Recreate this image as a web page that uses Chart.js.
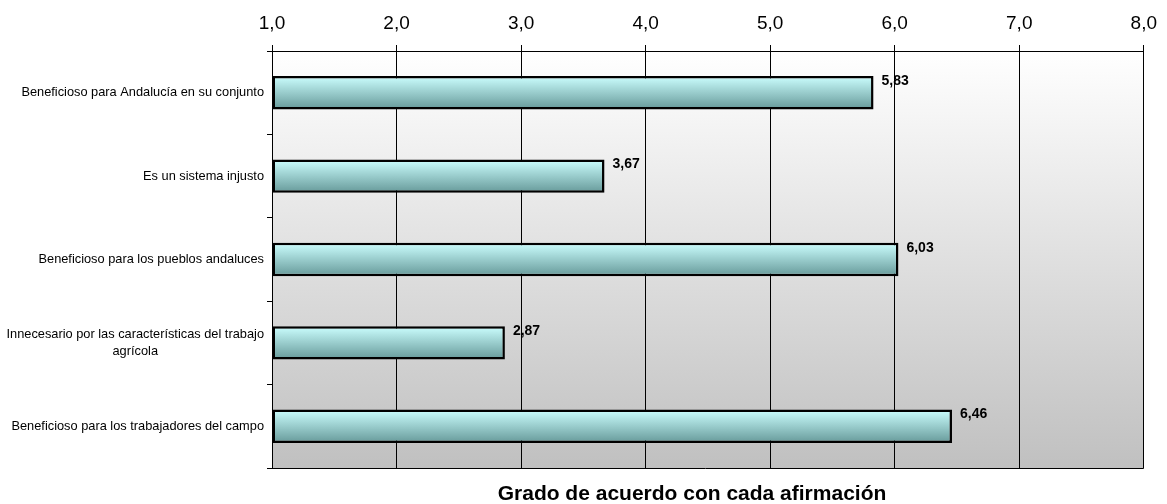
<!DOCTYPE html>
<html><head><meta charset="utf-8">
<script src="https://cdn.jsdelivr.net/npm/chart.js@4.4.0/dist/chart.umd.min.js"></script>
<style>html,body{margin:0;padding:0;background:#fff}#wrap{width:1167px;height:504px}</style>
</head><body><div id="wrap"><canvas id="c" width="1167" height="504"></canvas></div>
<script>
const categories = [
  ["Beneficioso para Andalucía en su conjunto"],
  ["Es un sistema injusto"],
  ["Beneficioso para los pueblos andaluces"],
  ["Innecesario por las características del trabajo", "agrícola"],
  ["Beneficioso para los trabajadores del campo"]
];
const values = [5.83, 3.67, 6.03, 2.87, 6.46];
const valueLabels = ["5,83", "3,67", "6,03", "2,87", "6,46"];
const xTickLabels = ["1,0", "2,0", "3,0", "4,0", "5,0", "6,0", "7,0", "8,0"];
const axisTitle = "Grado de acuerdo con cada afirmación";
const xMin = 1, xMax = 8;

const FONT = "'Liberation Sans', Arial, Helvetica, sans-serif";
const BAR_PCT = 0.4;

const drawPlugin = {
  id: 'custom',
  beforeDraw(chart) {
    const {ctx, chartArea: a} = chart;
    ctx.save();
    ctx.fillStyle = '#fff';
    ctx.fillRect(0, 0, chart.width, chart.height);
    const g = ctx.createLinearGradient(0, a.top, 0, a.bottom);
    g.addColorStop(0, '#ffffff');
    g.addColorStop(1, '#c0c0c0');
    ctx.fillStyle = g;
    ctx.fillRect(a.left, a.top, a.right - a.left, a.bottom - a.top);
    ctx.restore();
  },
  afterDraw(chart) {
    const {ctx, chartArea: a} = chart;
    const ys = chart.scales.y;
    ctx.save();
    // bottom border
    ctx.strokeStyle = '#000';
    ctx.lineWidth = 1;
    ctx.beginPath();
    ctx.moveTo(a.left - 5, Math.round(a.bottom) + 0.5);
    ctx.lineTo(a.right, Math.round(a.bottom) + 0.5);
    ctx.stroke();
    // value labels
    const meta = chart.getDatasetMeta(0);
    ctx.fillStyle = '#000';
    ctx.font = 'bold 14px ' + FONT;
    ctx.textAlign = 'left';
    ctx.textBaseline = 'middle';
    meta.data.forEach((el, i) => {
      ctx.fillText(valueLabels[i], el.x + 8, el.y - el.height / 2 + 5);
    });
    // category labels
    ctx.font = '12.8px ' + FONT;
    ctx.textAlign = 'center';
    const rightX = 264, lh = 17;
    categories.forEach((lines, i) => {
      const cy = ys.getPixelForValue(i);
      const w = Math.max(...lines.map(l => ctx.measureText(l).width));
      const cx = rightX - w / 2;
      const y0 = cy - (lines.length - 1) * lh / 2;
      lines.forEach((l, j) => ctx.fillText(l, cx, y0 + j * lh));
    });
    // axis title
    ctx.font = 'bold 21px ' + FONT;
    ctx.textAlign = 'center';
    ctx.fillText(axisTitle, 692, 494);
    ctx.restore();
  }
};

new Chart(document.getElementById('c'), {
  type: 'bar',
  data: {
    labels: categories.map(c => c.join(' ')),
    datasets: [{
      data: values,
      base: xMin,
      backgroundColor: (ctx) => {
        const ch = ctx.chart;
        const ys = ch.scales.y;
        if (!ys || !ch.chartArea || ctx.dataIndex === undefined) return '#99cccc';
        const c = ys.getPixelForValue(ctx.dataIndex);
        const h = (ys.height / categories.length) * BAR_PCT / 2;
        const g = ch.ctx.createLinearGradient(0, c - h, 0, c + h);
        g.addColorStop(0, '#ccffff');
        g.addColorStop(1, '#669999');
        return g;
      },
      borderColor: '#000',
      borderWidth: 2.5,
      borderSkipped: false,
      barPercentage: BAR_PCT,
      categoryPercentage: 1
    }]
  },
  options: {
    indexAxis: 'y',
    responsive: false,
    animation: false,
    devicePixelRatio: 1,
    layout: {padding: {left: 0, right: 19, top: 0, bottom: 36}},
    plugins: {legend: {display: false}, tooltip: {enabled: false}, title: {display: false}},
    scales: {
      x: {
        position: 'top',
        min: xMin, max: xMax,
        afterFit: (s) => { s.height = 51; },
        ticks: {
          stepSize: 1,
          color: '#000',
          font: {family: FONT, size: 19},
          padding: 10,
          callback: (v) => xTickLabels[Math.round(v - xMin)]
        },
        grid: {color: '#000', lineWidth: 1, drawTicks: true, tickLength: 6},
        border: {display: true, color: '#000', width: 1}
      },
      y: {
        afterFit: (s) => { s.width = 272; },
        ticks: {display: false},
        grid: {offset: true, drawOnChartArea: false, drawTicks: true, tickLength: 5, color: '#000', lineWidth: 1},
        border: {display: true, color: '#000', width: 1}
      }
    }
  },
  plugins: [drawPlugin]
});
</script>
</body></html>
